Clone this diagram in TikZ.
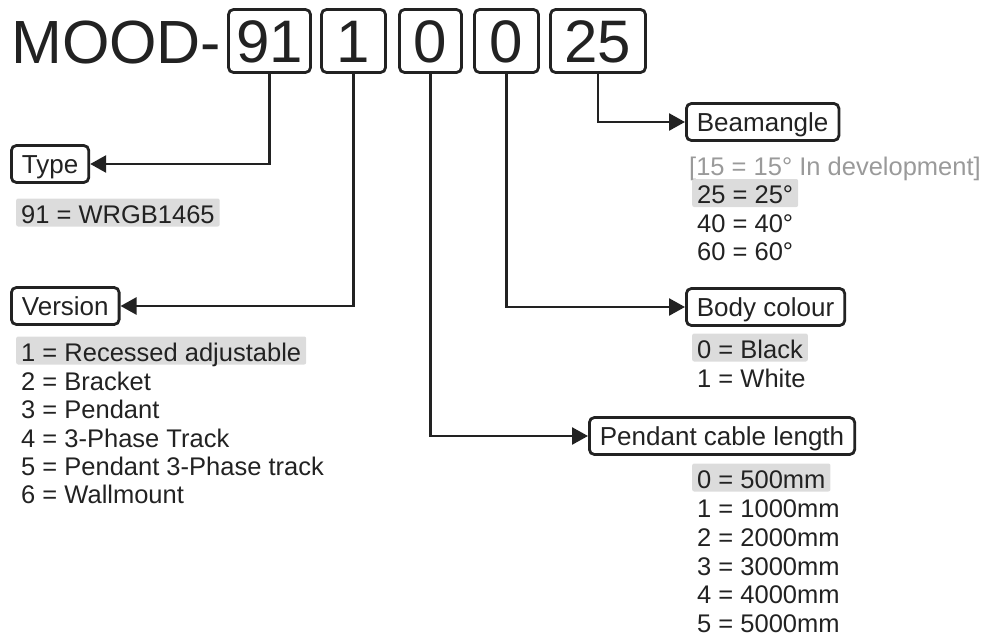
\documentclass[tikz,border=0pt]{standalone}
\usepackage{fontspec}
\setmainfont{Liberation Sans}
\usetikzlibrary{arrows.meta}
\definecolor{ink}{HTML}{222222}
\definecolor{shade}{HTML}{DCDCDC}
\definecolor{later}{HTML}{9A9A9A}
\begin{document}
\begin{tikzpicture}[x=1pt,y=-1pt]
		\tikzstyle{digit} = [draw=ink, line width=2.8pt, rounded corners=5pt, minimum height=63pt, inner xsep=0pt, text height=43pt, text depth=0pt, text=ink, font=\fontsize{60}{60}\selectfont]
		\tikzstyle{field} = [draw=ink, line width=2.8pt, rounded corners=5pt, minimum height=37pt, inner xsep=10.5pt, anchor=west, text height=19pt, text depth=0pt, text=ink, font=\fontsize{26}{26}\selectfont]
		\tikzstyle{item} = [anchor=base west, inner xsep=5pt, inner ysep=0pt, text height=24.5pt, text depth=3.5pt, text=ink, font=\fontsize{25.5}{25.5}\selectfont]
		\tikzstyle{pick} = [item, fill=shade, rounded corners=2pt]
		\tikzstyle{link} = [draw=ink, line width=2.6pt, -{Triangle[length=16pt,width=17pt]}]
		\useasboundingbox (0,0) rectangle (988,637);
		% article code
		\node [anchor=base west, inner sep=0pt, text=ink, font=\fontsize{61}{61}\selectfont] (mood) at (11,63) {MOOD-};
		\node [digit, minimum width=82pt] (d91) at (269.5,41) {91};
		\node [digit, minimum width=64pt] (d1) at (353.5,41) {1};
		\node [digit, minimum width=62pt] (d0a) at (430.5,41) {0};
		\node [digit, minimum width=64pt] (d0b) at (506.5,41) {0};
		\node [digit, minimum width=95pt] (d25) at (598,41) {25};
		% fields
		\node [field] (type) at (10,164) {Type};
		\node [field] (version) at (10,306) {Version};
		\node [field] (beam) at (685,122) {Beamangle};
		\node [field] (body) at (685,307) {Body colour};
		\node [field] (cable) at (588,436) {Pendant cable length};
		\draw [link] (d91) |- (type);
		\draw [link] (d1) |- (version);
		\draw [link] (d0a) |- (cable);
		\draw [link] (d0b) |- (body);
		\draw [link] (d25) |- (beam);
		% type
		\node [pick] (t91) at (16,223) {91 = WRGB1465};
		% version
		\node [pick] (v1) at (16,361) {1 = Recessed adjustable};
		\node [item] (v2) at (16,390) {2 = Bracket};
		\node [item] (v3) at (16,418) {3 = Pendant};
		\node [item] (v4) at (16,447) {4 = 3-Phase Track};
		\node [item] (v5) at (16,475) {5 = Pendant 3-Phase track};
		\node [item] (v6) at (16,503) {6 = Wallmount};
		% beamangle
		\node [item, text=later] (b15) at (684,175) {[15 = 15° In development]};
		\node [pick] (b25) at (692,203.5) {25 = 25°};
		\node [item] (b40) at (692,232) {40 = 40°};
		\node [item] (b60) at (692,260.5) {60 = 60°};
		% body colour
		\node [pick] (c0) at (692,358) {0 = Black};
		\node [item] (c1) at (692,387) {1 = White};
		% cable length
		\node [pick] (l0) at (692,488) {0 = 500mm};
		\node [item] (l1) at (692,517) {1 = 1000mm};
		\node [item] (l2) at (692,546) {2 = 2000mm};
		\node [item] (l3) at (692,575) {3 = 3000mm};
		\node [item] (l4) at (692,603.5) {4 = 4000mm};
		\node [item] (l5) at (692,632) {5 = 5000mm};
\end{tikzpicture}
\end{document}
